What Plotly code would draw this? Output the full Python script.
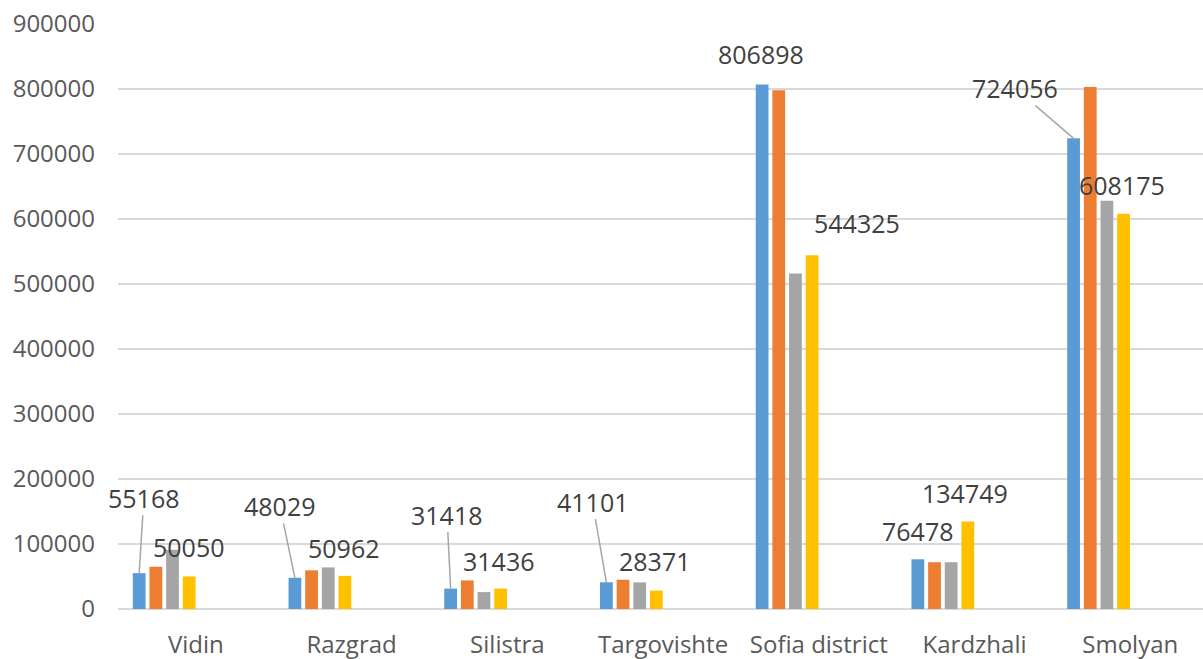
import plotly.graph_objects as go

categories = ["Vidin", "Razgrad", "Silistra", "Targovishte", "Sofia district", "Kardzhali", "Smolyan"]
series1 = [55168, 48029, 31418, 41101, 806898, 76478, 724056]   # blue
series2 = [65000, 59500, 44000, 45000, 798000, 72000, 803000]   # orange
series3 = [91000, 64000, 26000, 41000, 516000, 72000, 628000]   # gray
series4 = [50050, 50962, 31436, 28371, 544325, 134749, 608175]  # yellow
y_ticks = [0, 100000, 200000, 300000, 400000, 500000, 600000, 700000, 800000, 900000]

colors = ["#5B9BD5", "#ED7D31", "#A5A5A5", "#FFC000"]
bar_w = 0.082
bar_step = 0.107
first_off = -0.405

# label placement (pixel offsets from bar top): (series index, category index, dx, dy, leader)
label_spec = [
    (0, 0, 4.7, -75.5, True), (3, 0, -1, -29, False),
    (0, 1, -15, -72, True), (3, 1, -1, -28, False),
    (0, 2, -3.7, -74, True), (3, 2, -1.7, -28, False),
    (0, 3, -14, -80.6, True), (3, 3, -2, -30, False),
    (0, 4, -1, -30.5, False), (3, 4, 45, -32, False),
    (0, 5, 0, -28.7, False), (3, 5, -3, -28, False),
    (0, 6, -58.5, -50.3, True), (3, 6, -1.5, -28.5, False),
]

all_series = [series1, series2, series3, series4]
fig = go.Figure()
for i, (vals, col) in enumerate(zip(all_series, colors)):
    fig.add_trace(go.Bar(
        x=categories, y=vals, marker=dict(color=col, line=dict(width=0)),
        offset=first_off + i * bar_step, width=bar_w, showlegend=False,
    ))

for si, ci, dx, dy, leader in label_spec:
    xc = ci + first_off + si * bar_step + bar_w / 2
    val = all_series[si][ci]
    common = dict(x=xc, y=val, xref="x", yref="y", text=str(val),
                  font=dict(family="Open Sans", size=25, color="#404040"))
    if leader:
        fig.add_annotation(**common, showarrow=True, arrowhead=0, arrowwidth=1.5,
                           arrowcolor="#A6A6A6", ax=dx, ay=dy, axref="pixel", ayref="pixel",
                           standoff=0, borderpad=0)
    else:
        fig.add_annotation(**common, showarrow=False, xshift=dx, yshift=-dy,
                           xanchor="center", yanchor="middle")

fig.update_layout(
    width=1203, height=659,
    margin=dict(l=118, r=0, t=24, b=50),
    barmode="overlay",
    plot_bgcolor="white", paper_bgcolor="white",
    font=dict(family="Open Sans", size=24, color="#595959"),
    xaxis=dict(type="category", range=[-0.5, 6.467], showgrid=False, showline=False,
               ticks="", ticklabelstandoff=19, tickfont=dict(size=24, color="#595959")),
    yaxis=dict(range=[0, 900000], tickvals=y_ticks, tickformat="d", showgrid=True,
               gridcolor="#D9D9D9", gridwidth=2, zeroline=True, zerolinecolor="#D9D9D9",
               zerolinewidth=2, showline=False, ticks="", ticklabelstandoff=22,
               tickfont=dict(size=24, color="#595959")),
)

fig.write_html("out.html")
